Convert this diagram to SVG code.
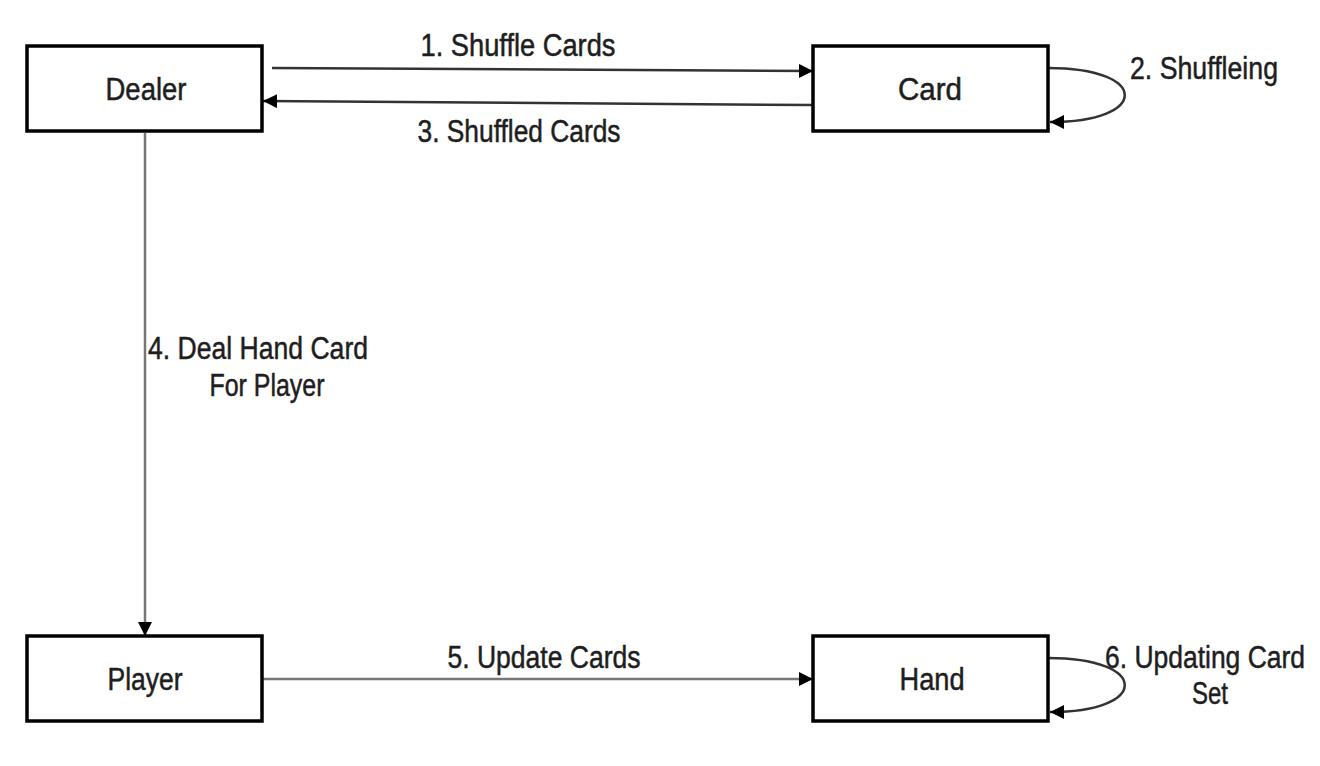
<svg xmlns="http://www.w3.org/2000/svg" width="1320" height="766" viewBox="0 0 1320 766">
<style>
text{font-family:"Liberation Sans Narrow","Liberation Sans",Arial,sans-serif;font-size:31px;fill:#1e1e1e;stroke:#1e1e1e;stroke-width:0.5;text-anchor:middle}
.box{fill:#fff;stroke:#000;stroke-width:3.5}
.edge{fill:none;stroke:#333;stroke-width:2.5}
.gray{stroke:#777}
</style>
<defs>
<marker id="ah" markerUnits="userSpaceOnUse" markerWidth="16" markerHeight="16" refX="14" refY="7" orient="auto" viewBox="0 0 16 16">
<path d="M0,0 L14,7 L0,14 Z" fill="#000"/>
</marker>
</defs>
<rect width="1320" height="766" fill="#fff"/>
<g id="connectors">
<path class="edge" d="M272,68 L813,71" marker-end="url(#ah)"/>
<path class="edge" d="M813,105 L263,101" marker-end="url(#ah)"/>
<path class="edge" d="M1048,68 C1150,68 1150,122 1050,122" marker-end="url(#ah)"/>
<path class="edge gray" d="M145,133 L145,636" marker-end="url(#ah)"/>
<path class="edge gray" d="M263,679 L813,679" marker-end="url(#ah)"/>
<path class="edge" d="M1048,658 C1150,658 1150,712 1050,712" marker-end="url(#ah)"/>
<text x="518" y="56" textLength="195" lengthAdjust="spacingAndGlyphs">1. Shuffle Cards</text>
<text x="519" y="142" textLength="203" lengthAdjust="spacingAndGlyphs">3. Shuffled Cards</text>
<text x="1204" y="79" textLength="148" lengthAdjust="spacingAndGlyphs">2. Shuffleing</text>
<text x="258" y="359" textLength="220" lengthAdjust="spacingAndGlyphs">4. Deal Hand Card</text>
<text x="267" y="396" textLength="115" lengthAdjust="spacingAndGlyphs">For Player</text>
<text x="544" y="668" textLength="193" lengthAdjust="spacingAndGlyphs">5. Update Cards</text>
<text x="1205" y="668" textLength="200" lengthAdjust="spacingAndGlyphs">6. Updating Card</text>
<text x="1210" y="704" textLength="36" lengthAdjust="spacingAndGlyphs">Set</text>
</g>
<g id="dealer">
<rect class="box" x="27" y="46" width="235" height="85"/>
<text x="146" y="100" textLength="81" lengthAdjust="spacingAndGlyphs">Dealer</text>
</g>
<g id="card">
<rect class="box" x="813" y="46" width="235" height="85"/>
<text x="930" y="100" textLength="64" lengthAdjust="spacingAndGlyphs">Card</text>
</g>
<g id="player">
<rect class="box" x="27" y="636" width="235" height="85"/>
<text x="145" y="690" textLength="75" lengthAdjust="spacingAndGlyphs">Player</text>
</g>
<g id="hand">
<rect class="box" x="813" y="636" width="235" height="85"/>
<text x="932" y="690" textLength="65" lengthAdjust="spacingAndGlyphs">Hand</text>
</g>
</svg>
